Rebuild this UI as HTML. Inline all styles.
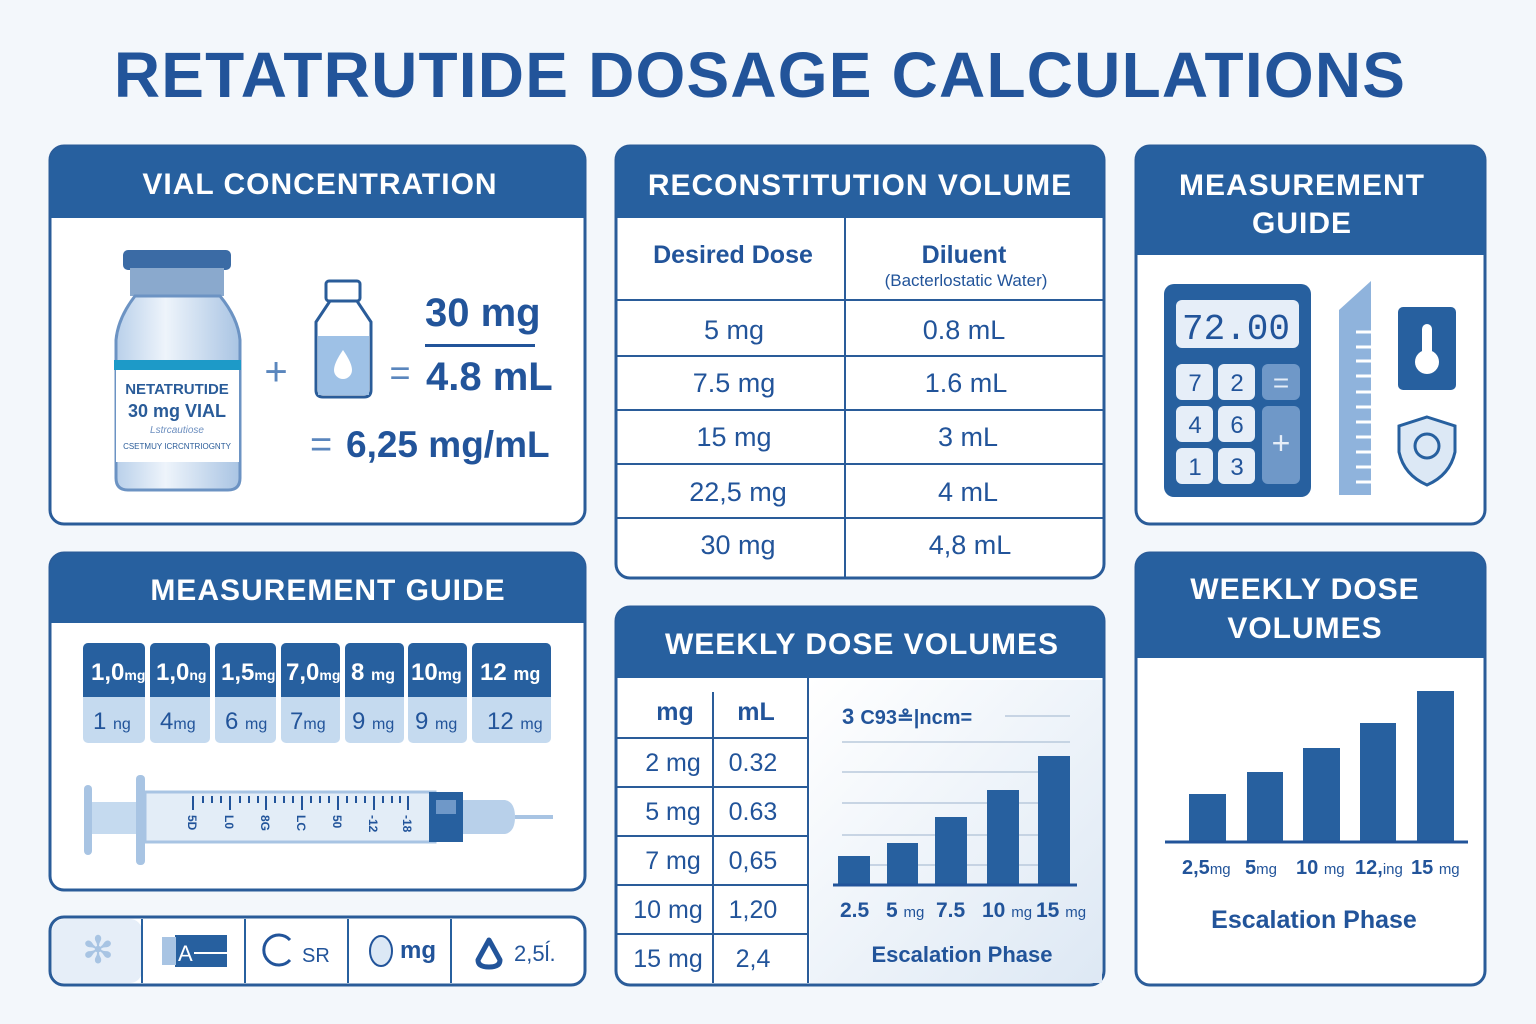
<!DOCTYPE html>
<html><head><meta charset="utf-8"><style>
html,body{margin:0;padding:0;background:#f3f7fb;}
svg{display:block;font-family:"Liberation Sans",sans-serif;}
</style></head><body>
<svg width="1536" height="1024" viewBox="0 0 1536 1024" xmlns="http://www.w3.org/2000/svg">
<defs>
<linearGradient id="cg" x1="0" y1="0" x2="1" y2="1"><stop offset="0" stop-color="#ffffff"/><stop offset="1" stop-color="#dde8f4"/></linearGradient>
<linearGradient id="vg" x1="0" y1="0" x2="1" y2="0"><stop offset="0" stop-color="#b9d0ea"/><stop offset="0.4" stop-color="#eef4fb"/><stop offset="1" stop-color="#a9c4e3"/></linearGradient>
</defs>
<rect width="1536" height="1024" fill="#f3f7fb"/>
<text x="760" y="97" text-anchor="middle" font-size="64" font-weight="bold" fill="#22549a" letter-spacing="1.2">RETATRUTIDE DOSAGE CALCULATIONS</text>

<g stroke="#2a5c99" stroke-width="3" fill="#fff">
<rect x="50" y="146" width="535" height="378" rx="14"/>
<rect x="616" y="146" width="488" height="432" rx="14"/>
<rect x="1136" y="146" width="349" height="378" rx="14"/>
<rect x="50" y="553" width="535" height="337" rx="14"/>
<rect x="50" y="917" width="535" height="68" rx="14"/>
<rect x="616" y="607" width="488" height="378" rx="14"/>
<rect x="1136" y="553" width="349" height="432" rx="14"/>
</g>
<g fill="#27609f">
<path d="M50 218V160a14 14 0 0 1 14-14h507a14 14 0 0 1 14 14v58z"/>
<path d="M616 218V160a14 14 0 0 1 14-14h460a14 14 0 0 1 14 14v58z"/>
<path d="M1136 255V160a14 14 0 0 1 14-14h321a14 14 0 0 1 14 14v95z"/>
<path d="M50 623V567a14 14 0 0 1 14-14h507a14 14 0 0 1 14 14v56z"/>
<path d="M616 678V621a14 14 0 0 1 14-14h460a14 14 0 0 1 14 14v57z"/>
<path d="M1136 658V567a14 14 0 0 1 14-14h321a14 14 0 0 1 14 14v91z"/>
</g>
<g fill="#fff" font-size="30" font-weight="bold" text-anchor="middle" letter-spacing="1">
<text x="320" y="194">VIAL CONCENTRATION</text>
<text x="860" y="195">RECONSTITUTION VOLUME</text>
<text x="1302" y="195">MEASUREMENT</text><text x="1302" y="233">GUIDE</text>
<text x="328" y="600">MEASUREMENT GUIDE</text>
<text x="862" y="654">WEEKLY DOSE VOLUMES</text>
<text x="1305" y="599">WEEKLY DOSE</text><text x="1305" y="638">VOLUMES</text>
</g>

<!-- Vial -->
<rect x="123" y="250" width="108" height="20" rx="5" fill="#3b6ba5"/>
<rect x="130" y="268" width="94" height="28" fill="#8aa9cd"/>
<path d="M135 296 Q118 318 116 340 V478 Q116 490 128 490 H228 Q240 490 240 478 V340 Q238 318 220 296Z" fill="url(#vg)" stroke="#6c93c3" stroke-width="3"/>
<rect x="114" y="360" width="127" height="10" fill="#1d9ac8"/>
<rect x="116" y="370" width="123" height="92" fill="#fff"/>
<text x="177" y="394" text-anchor="middle" font-size="15" font-weight="bold" fill="#2a5c99">NETATRUTIDE</text>
<text x="177" y="417" text-anchor="middle" font-size="18" font-weight="bold" fill="#2a5c99">30 mg VIAL</text>
<text x="177" y="433" text-anchor="middle" font-size="10" fill="#6d8fbf" font-style="italic">Lstrcautiose</text>
<text x="177" y="449" text-anchor="middle" font-size="8" fill="#2a5c99">CSETMUY ICRCNTRIOGNTY</text>
<text x="276" y="385" text-anchor="middle" font-size="40" fill="#5a86bd">+</text>
<rect x="326" y="281" width="34" height="20" rx="3" fill="none" stroke="#2a5c99" stroke-width="3"/>
<path d="M330 301 L316 322 V390 Q316 397 323 397 H364 Q371 397 371 390 V322 L357 301Z" fill="#fff" stroke="#2a5c99" stroke-width="3"/>
<rect x="318" y="336" width="51" height="59" fill="#9ec1e6"/>
<path d="M343 350 Q334 363 334 370 a9 9 0 0 0 18 0 Q352 363 343 350Z" fill="#fff"/>
<text x="400" y="385" text-anchor="middle" font-size="36" fill="#5a86bd">=</text>
<text x="425" y="326" font-size="40" font-weight="bold" fill="#22549a">30 mg</text>
<rect x="425" y="344" width="110" height="3" fill="#22549a"/>
<text x="426" y="390" font-size="40" font-weight="bold" fill="#22549a">4.8 mL</text>
<text x="310" y="457" font-size="38" fill="#5a86bd">=</text>
<text x="346" y="457" font-size="37" font-weight="bold" fill="#22549a">6,25 mg/mL</text>

<!-- Reconstitution table -->
<g stroke="#2a5c99" stroke-width="2">
<line x1="845" y1="218" x2="845" y2="577"/>
<line x1="617" y1="300" x2="1103" y2="300"/>
<line x1="617" y1="356" x2="1103" y2="356"/>
<line x1="617" y1="410" x2="1103" y2="410"/>
<line x1="617" y1="464" x2="1103" y2="464"/>
<line x1="617" y1="518" x2="1103" y2="518"/>
</g>
<g fill="#22549a" font-size="25" text-anchor="middle" font-weight="bold">
<text x="733" y="263">Desired Dose</text><text x="964" y="263">Diluent</text>
</g>
<text x="966" y="286" text-anchor="middle" font-size="17" fill="#22549a">(Bacterlostatic Water)</text>
<g fill="#22549a" font-size="27" text-anchor="middle">
<text x="734" y="339">5 mg</text><text x="964" y="339">0.8 mL</text>
<text x="734" y="392">7.5 mg</text><text x="966" y="392">1.6 mL</text>
<text x="734" y="446">15 mg</text><text x="968" y="446">3 mL</text>
<text x="738" y="501">22,5 mg</text><text x="968" y="501">4 mL</text>
<text x="738" y="554">30 mg</text><text x="970" y="554">4,8 mL</text>
</g>

<!-- Calculator -->
<rect x="1164" y="284" width="147" height="213" rx="10" fill="#27609f"/>
<rect x="1176" y="300" width="123" height="48" rx="6" fill="#e6eef8"/>
<text x="1290" y="339" text-anchor="end" font-size="36" fill="#22549a" font-family="Liberation Mono,monospace">72.00</text>
<g fill="#e6eef8">
<rect x="1176" y="364" width="37" height="36" rx="6"/><rect x="1218" y="364" width="37" height="36" rx="6"/>
<rect x="1176" y="406" width="37" height="36" rx="6"/><rect x="1218" y="406" width="37" height="36" rx="6"/>
<rect x="1176" y="448" width="37" height="36" rx="6"/><rect x="1218" y="448" width="37" height="36" rx="6"/>
</g>
<rect x="1262" y="364" width="38" height="36" rx="6" fill="#6f98c8"/>
<rect x="1262" y="406" width="38" height="78" rx="6" fill="#6f98c8"/>
<g font-size="24" text-anchor="middle" fill="#22549a"><text x="1195" y="391">7</text><text x="1237" y="391">2</text><text x="1195" y="433">4</text><text x="1237" y="433">6</text><text x="1195" y="475">1</text><text x="1237" y="475">3</text></g>
<text x="1281" y="392" text-anchor="middle" font-size="28" fill="#e6eef8">=</text>
<text x="1281" y="454" text-anchor="middle" font-size="32" fill="#e6eef8">+</text>
<path d="M1339 310 L1371 281 V495 H1339Z" fill="#8fb3dc"/>
<g stroke="#fff" stroke-width="3"><line x1="1356" y1="332" x2="1371" y2="332"/><line x1="1356" y1="347" x2="1371" y2="347"/><line x1="1356" y1="361" x2="1371" y2="361"/><line x1="1356" y1="376" x2="1371" y2="376"/><line x1="1356" y1="392" x2="1371" y2="392"/><line x1="1356" y1="407" x2="1371" y2="407"/><line x1="1356" y1="422" x2="1371" y2="422"/><line x1="1356" y1="437" x2="1371" y2="437"/><line x1="1356" y1="452" x2="1371" y2="452"/><line x1="1356" y1="467" x2="1371" y2="467"/><line x1="1356" y1="482" x2="1371" y2="482"/></g>
<rect x="1398" y="307" width="58" height="83" rx="5" fill="#27609f"/>
<rect x="1422" y="324" width="10" height="34" rx="5" fill="#fff"/><circle cx="1427" cy="362" r="12" fill="#fff"/>
<path d="M1427 417 L1455 426 V452 Q1450 475 1427 485 Q1404 475 1399 452 V426Z" fill="#dce8f5" stroke="#27609f" stroke-width="3"/>
<circle cx="1427" cy="446" r="12" fill="none" stroke="#27609f" stroke-width="3"/>

<!-- Tiles -->
<g>
<g fill="#c5daef"><rect x="83" y="643" width="62" height="100" rx="5"/><rect x="150" y="643" width="60" height="100" rx="5"/><rect x="215" y="643" width="61" height="100" rx="5"/><rect x="281" y="643" width="59" height="100" rx="5"/><rect x="345" y="643" width="59" height="100" rx="5"/><rect x="408" y="643" width="59" height="100" rx="5"/><rect x="472" y="643" width="79" height="100" rx="5"/></g>
<g fill="#27609f"><path d="M83 697V648a5 5 0 0 1 5-5h52a5 5 0 0 1 5 5v49z"/><path d="M150 697V648a5 5 0 0 1 5-5h50a5 5 0 0 1 5 5v49z"/><path d="M215 697V648a5 5 0 0 1 5-5h51a5 5 0 0 1 5 5v49z"/><path d="M281 697V648a5 5 0 0 1 5-5h49a5 5 0 0 1 5 5v49z"/><path d="M345 697V648a5 5 0 0 1 5-5h49a5 5 0 0 1 5 5v49z"/><path d="M408 697V648a5 5 0 0 1 5-5h49a5 5 0 0 1 5 5v49z"/><path d="M472 697V648a5 5 0 0 1 5-5h69a5 5 0 0 1 5 5v49z"/></g>
<g fill="#fff" font-weight="bold" font-size="24"><text x="91" y="680">1,0<tspan font-size="14">mg</tspan></text><text x="156" y="680">1,0<tspan font-size="14">ng</tspan></text><text x="221" y="680">1,5<tspan font-size="14">mg</tspan></text><text x="286" y="680">7,0<tspan font-size="14">mg</tspan></text><text x="351" y="680">8 <tspan font-size="16">mg</tspan></text><text x="411" y="680">10<tspan font-size="16">mg</tspan></text><text x="480" y="680">12 <tspan font-size="18">mg</tspan></text></g>
<g fill="#22549a" font-size="24"><text x="93" y="729">1 <tspan font-size="16">ng</tspan></text><text x="160" y="729">4<tspan font-size="16">mg</tspan></text><text x="225" y="729">6 <tspan font-size="16">mg</tspan></text><text x="290" y="729">7<tspan font-size="16">mg</tspan></text><text x="352" y="729">9 <tspan font-size="16">mg</tspan></text><text x="415" y="729">9 <tspan font-size="16">mg</tspan></text><text x="487" y="729">12 <tspan font-size="16">mg</tspan></text></g>
</g>
<!-- Syringe -->
<rect x="84" y="785" width="8" height="70" rx="4" fill="#a8c4e3"/>
<rect x="92" y="802" width="48" height="32" fill="#c5daef"/>
<rect x="136" y="775" width="9" height="90" rx="4" fill="#a8c4e3"/>
<rect x="145" y="792" width="290" height="50" fill="#e3edf7" stroke="#a8c4e3" stroke-width="3"/>
<rect x="429" y="792" width="34" height="50" fill="#27609f"/>
<rect x="436" y="800" width="20" height="14" fill="#6f98c8"/>
<path d="M463 800 H505 Q515 802 515 817 Q515 832 505 834 H463Z" fill="#b8d0ea"/>
<rect x="515" y="815" width="38" height="4" fill="#a8c4e3"/>
<g stroke="#22549a" stroke-width="2">
<line x1="193" y1="796" x2="193" y2="810"/><line x1="230" y1="796" x2="230" y2="810"/><line x1="266" y1="796" x2="266" y2="810"/><line x1="302" y1="796" x2="302" y2="810"/><line x1="338" y1="796" x2="338" y2="810"/><line x1="374" y1="796" x2="374" y2="810"/><line x1="408" y1="796" x2="408" y2="810"/>
<line x1="203" y1="796" x2="203" y2="803"/><line x1="212" y1="796" x2="212" y2="803"/><line x1="221" y1="796" x2="221" y2="803"/><line x1="240" y1="796" x2="240" y2="803"/><line x1="249" y1="796" x2="249" y2="803"/><line x1="258" y1="796" x2="258" y2="803"/><line x1="275" y1="796" x2="275" y2="803"/><line x1="284" y1="796" x2="284" y2="803"/><line x1="293" y1="796" x2="293" y2="803"/><line x1="311" y1="796" x2="311" y2="803"/><line x1="320" y1="796" x2="320" y2="803"/><line x1="329" y1="796" x2="329" y2="803"/><line x1="347" y1="796" x2="347" y2="803"/><line x1="356" y1="796" x2="356" y2="803"/><line x1="365" y1="796" x2="365" y2="803"/><line x1="383" y1="796" x2="383" y2="803"/><line x1="392" y1="796" x2="392" y2="803"/><line x1="400" y1="796" x2="400" y2="803"/>
</g>
<g fill="#22549a" font-size="12" font-weight="bold"><text transform="translate(188,815) rotate(90)">5D</text><text transform="translate(225,815) rotate(90)">L0</text><text transform="translate(261,815) rotate(90)">8G</text><text transform="translate(297,815) rotate(90)">LC</text><text transform="translate(333,815) rotate(90)">50</text><text transform="translate(369,815) rotate(90)">-12</text><text transform="translate(403,815) rotate(90)">-18</text></g>

<!-- Icon bar -->
<rect x="52" y="919" width="90" height="64" rx="12" fill="#e6eef8"/>
<g stroke="#27609f" stroke-width="2"><line x1="142" y1="919" x2="142" y2="983"/><line x1="245" y1="919" x2="245" y2="983"/><line x1="348" y1="919" x2="348" y2="983"/><line x1="451" y1="919" x2="451" y2="983"/></g>
<text x="98" y="963" text-anchor="middle" font-size="38" fill="#a8c4e3">✻</text>
<rect x="175" y="935" width="52" height="32" fill="#27609f"/><rect x="162" y="937" width="14" height="28" fill="#a8c4e3"/>
<text x="178" y="961" font-size="22" fill="#fff">A</text><line x1="194" y1="953" x2="227" y2="953" stroke="#fff" stroke-width="2"/>
<path d="M290 940 A15 15 0 1 0 290 960" fill="none" stroke="#22549a" stroke-width="3"/>
<text x="302" y="962" font-size="20" fill="#22549a">SR</text>
<ellipse cx="381" cy="951" rx="11" ry="15" fill="#dce8f5" stroke="#22549a" stroke-width="2"/>
<text x="400" y="958" font-size="24" font-weight="bold" fill="#22549a">mg</text>
<path d="M489 940 L478 960 Q478 967 489 967 Q500 967 500 960Z" fill="#fff" stroke="#22549a" stroke-width="5" stroke-linejoin="round"/>
<text x="514" y="961" font-size="22" fill="#22549a">2,5ĺ.</text>

<!-- Weekly center table -->
<rect x="810" y="680" width="292" height="303" fill="url(#cg)"/>
<g stroke="#2a5c99" stroke-width="2">
<line x1="713" y1="692" x2="713" y2="983"/><line x1="808" y1="678" x2="808" y2="983"/>
<line x1="617" y1="738" x2="808" y2="738"/><line x1="617" y1="787" x2="808" y2="787"/><line x1="617" y1="836" x2="808" y2="836"/><line x1="617" y1="885" x2="808" y2="885"/><line x1="617" y1="934" x2="808" y2="934"/>
</g>
<g fill="#22549a" font-size="25" text-anchor="middle"><text x="675" y="720" font-weight="bold">mg</text><text x="756" y="720" font-weight="bold">mL</text>
<text x="673" y="771">2 mg</text><text x="753" y="771">0.32</text>
<text x="673" y="820">5 mg</text><text x="753" y="820">0.63</text>
<text x="673" y="869">7 mg</text><text x="753" y="869">0,65</text>
<text x="668" y="918">10 mg</text><text x="753" y="918">1,20</text>
<text x="668" y="967">15 mg</text><text x="753" y="967">2,4</text></g>
<text x="842" y="724" font-size="22" font-weight="bold" fill="#22549a">3 <tspan font-size="20">C93≗|ncm=</tspan></text>
<g stroke="#b9c9dc" stroke-width="1.5"><line x1="1005" y1="716" x2="1070" y2="716"/><line x1="842" y1="742" x2="1070" y2="742"/><line x1="842" y1="772" x2="1070" y2="772"/><line x1="842" y1="803" x2="1070" y2="803"/><line x1="842" y1="835" x2="1070" y2="835"/><line x1="842" y1="865" x2="1070" y2="865"/></g>
<g fill="#27609f"><rect x="838" y="856" width="32" height="29"/><rect x="887" y="843" width="31" height="42"/><rect x="935" y="817" width="32" height="68"/><rect x="987" y="790" width="32" height="95"/><rect x="1038" y="756" width="32" height="129"/></g>
<line x1="833" y1="885" x2="1077" y2="885" stroke="#22549a" stroke-width="3"/>
<g fill="#22549a" font-size="21" font-weight="bold"><text x="840" y="917">2.5</text><text x="886" y="917">5 <tspan font-size="15" font-weight="normal">mg</tspan></text><text x="936" y="917">7.5</text><text x="982" y="917">10 <tspan font-size="15" font-weight="normal">mg</tspan></text><text x="1036" y="917">15 <tspan font-size="15" font-weight="normal">mg</tspan></text></g>
<text x="962" y="962" text-anchor="middle" font-size="22" font-weight="bold" fill="#22549a">Escalation Phase</text>

<!-- Weekly right chart -->
<g fill="#27609f"><rect x="1189" y="794" width="37" height="48"/><rect x="1247" y="772" width="36" height="70"/><rect x="1303" y="748" width="37" height="94"/><rect x="1360" y="723" width="36" height="119"/><rect x="1417" y="691" width="37" height="151"/></g>
<line x1="1165" y1="842" x2="1468" y2="842" stroke="#22549a" stroke-width="3"/>
<g fill="#22549a" font-size="20" font-weight="bold"><text x="1182" y="874">2,5<tspan font-size="15" font-weight="normal">mg</tspan></text><text x="1245" y="874">5<tspan font-size="15" font-weight="normal">mg</tspan></text><text x="1296" y="874">10 <tspan font-size="15" font-weight="normal">mg</tspan></text><text x="1355" y="874">12,<tspan font-size="15" font-weight="normal">ing</tspan></text><text x="1411" y="874">15 <tspan font-size="15" font-weight="normal">mg</tspan></text></g>
<text x="1314" y="928" text-anchor="middle" font-size="25" font-weight="bold" fill="#22549a">Escalation Phase</text>
</svg>
</body></html>
